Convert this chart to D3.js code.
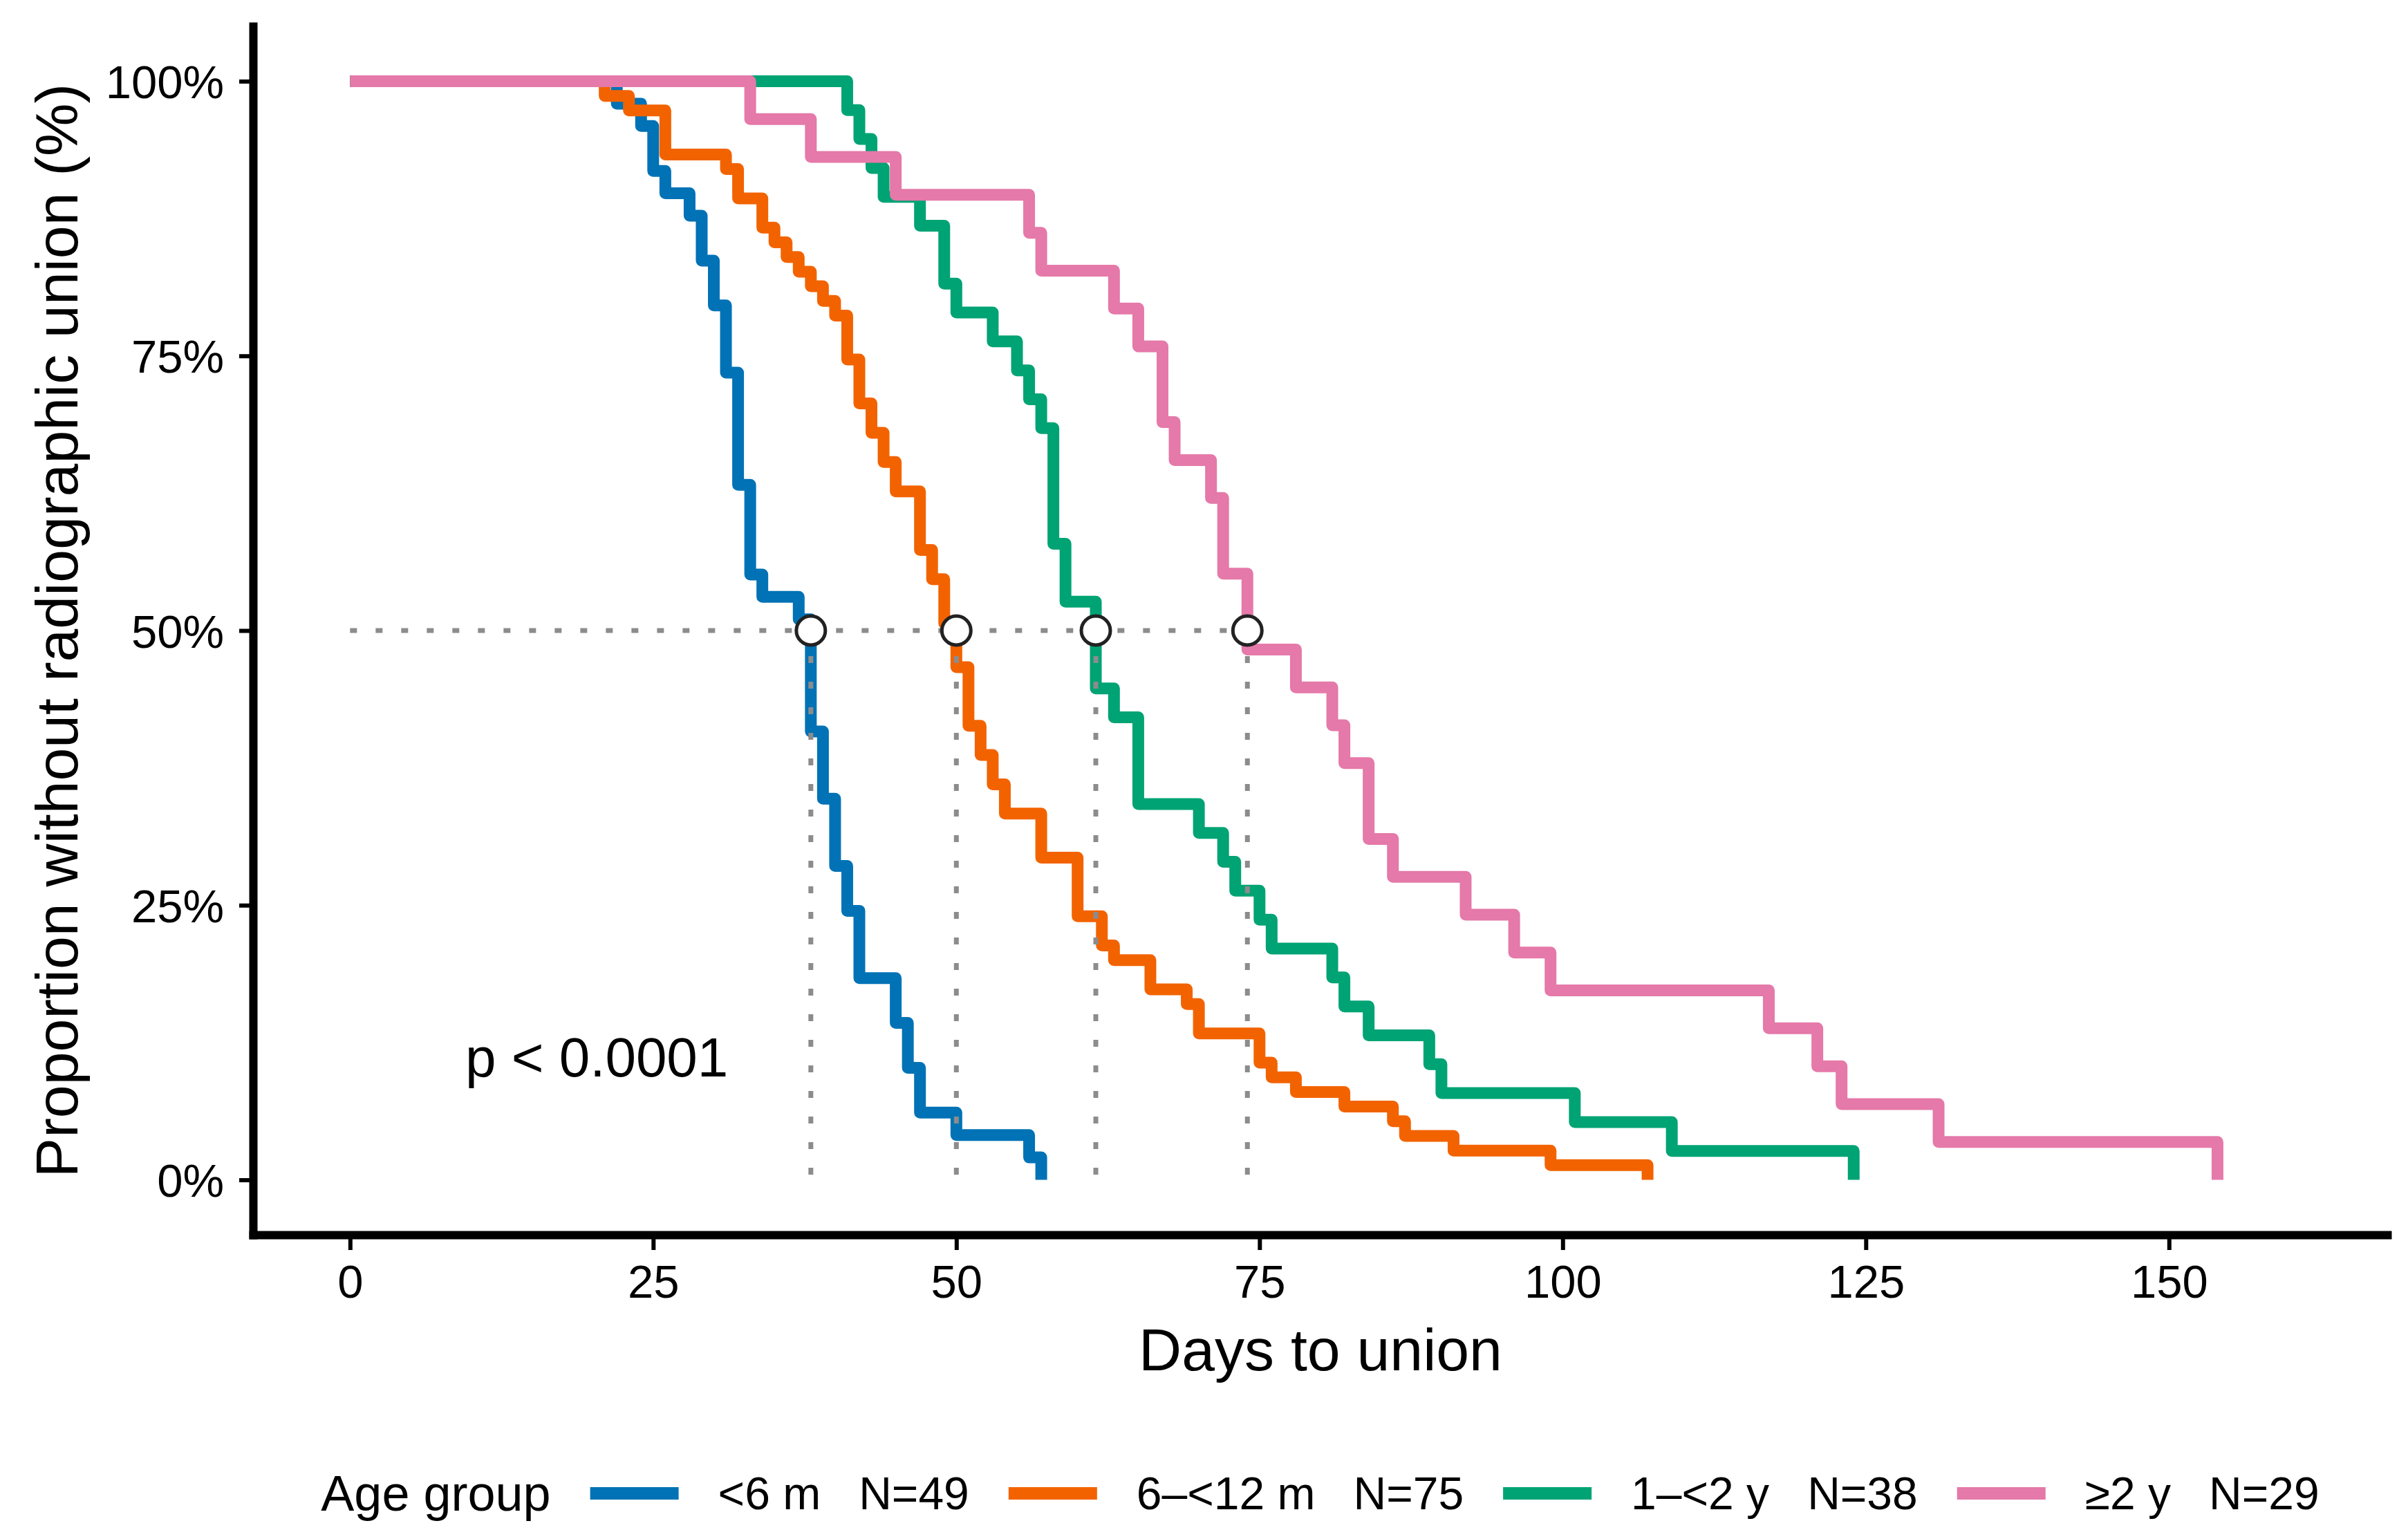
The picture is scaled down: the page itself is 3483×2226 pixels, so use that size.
<!DOCTYPE html>
<html>
<head>
<meta charset="utf-8">
<script src="https://cdn.jsdelivr.net/npm/d3@7"></script>
<style>
  body { margin: 0; background: #fff; }
  text { font-family: "Liberation Sans", Arial, sans-serif; fill: #000; }
</style>
</head>
<body>
<div id="container"></div>
<script>
const width = 3483;
const height = 2226;

// groups
const groups = ["<6 m", "6\u2013<12 m", "1\u2013<2 y", "\u22652 y"];
const groupN = [49, 75, 38, 29];
const colors = ["#0072B5", "#F26300", "#00A374", "#E579A9"];

// event days and number still without union after each day
const blueDays = [0, 22, 24, 25, 26, 28, 29, 30, 31, 32, 33, 34, 37, 38, 39, 40, 41, 42, 45, 46, 47, 50, 56, 57];
const blueLeft = [49, 48, 47, 45, 44, 43, 41, 39, 36, 31, 27, 26, 25, 20, 17, 14, 12, 9, 7, 5, 3, 2, 1, 0];

const orangeDays = [0, 21, 23, 26, 31, 32, 34, 35, 36, 37, 38, 39, 40, 41, 42, 43, 44, 45, 47, 48, 49, 50, 51, 52, 53, 54, 57, 60, 62, 63, 66, 69, 70, 75, 76, 78, 82, 86, 87, 91, 99, 107];
const orangeLeft = [75, 74, 73, 70, 69, 67, 65, 64, 63, 62, 61, 60, 59, 56, 53, 51, 49, 47, 43, 41, 38, 35, 31, 29, 27, 25, 22, 18, 16, 15, 13, 12, 10, 8, 7, 6, 5, 4, 3, 2, 1, 0];

const greenDays = [0, 41, 42, 43, 44, 47, 49, 50, 53, 55, 56, 57, 58, 59, 61.5, 63, 65, 70, 72, 73, 75, 76, 81, 82, 84, 89, 90, 101, 109, 124];
const greenLeft = [38, 37, 36, 35, 34, 33, 31, 30, 29, 28, 27, 26, 22, 20, 17, 16, 13, 12, 11, 10, 9, 8, 7, 6, 5, 4, 3, 2, 1, 0];

const pinkDays = [0, 33, 38, 45, 56, 57, 63, 65, 67, 68, 71, 72, 74, 78, 81, 82, 84, 86, 92, 96, 99, 117, 121, 123, 131, 154];
const pinkLeft = [29, 28, 27, 26, 25, 24, 23, 22, 20, 19, 18, 16, 14, 13, 12, 11, 9, 8, 7, 6, 5, 4, 3, 2, 1, 0];

// median days (survival crosses 50%)
const medians = [38, 50, 61.5, 74];

const xTicks = [0, 25, 50, 75, 100, 125, 150];
const yTicks = [0, 0.25, 0.5, 0.75, 1];
const pLabel = "p < 0.0001";

const curves = [
  { days: blueDays, left: blueLeft },
  { days: orangeDays, left: orangeLeft },
  { days: greenDays, left: greenLeft },
  { days: pinkDays, left: pinkLeft }
];

const xScale = d3.scaleLinear().domain([-8, 168]).range([366, 3453]);
const yScale = d3.scaleLinear().domain([-0.05, 1.05]).range([1786, 38]);

const svg = d3.select("#container")
  .append("svg")
  .attr("width", width)
  .attr("height", height)
  .style("background", "#fff");

// KM curves
const line = d3.line()
  .x(d => xScale(d[0]))
  .y(d => yScale(d[1]))
  .curve(d3.curveStepAfter);

curves.forEach((c, i) => {
  const pts = c.days.map((d, j) => [d, c.left[j] / groupN[i]]);
  svg.append("path")
    .attr("d", line(pts))
    .attr("fill", "none")
    .attr("stroke", colors[i])
    .attr("stroke-width", 17)
    .attr("stroke-linejoin", "round");
});

// median guide lines
const guides = svg.append("g")
  .attr("stroke", "#8c8c8c")
  .attr("stroke-width", 7)
  .attr("stroke-dasharray", "10,27")
  .attr("fill", "none");

guides.append("line")
  .attr("x1", xScale(0)).attr("x2", xScale(d3.max(medians)))
  .attr("y1", yScale(0.5)).attr("y2", yScale(0.5));

guides.selectAll(".vline")
  .data(medians)
  .join("line")
  .attr("class", "vline")
  .attr("x1", d => xScale(d)).attr("x2", d => xScale(d))
  .attr("y1", yScale(0.5)).attr("y2", yScale(0));

svg.selectAll(".median")
  .data(medians)
  .join("circle")
  .attr("class", "median")
  .attr("cx", d => xScale(d))
  .attr("cy", yScale(0.5))
  .attr("r", 21)
  .attr("fill", "#fff")
  .attr("stroke", "#222")
  .attr("stroke-width", 5);

// p value
svg.append("text")
  .attr("x", 673)
  .attr("y", 1557)
  .attr("font-size", 80)
  .text(pLabel);

// axes
const xAxis = svg.append("g")
  .attr("transform", `translate(0,${yScale.range()[0]})`)
  .call(d3.axisBottom(xScale).tickValues(xTicks).tickSize(22).tickSizeOuter(0).tickPadding(21));

const yAxis = svg.append("g")
  .attr("transform", `translate(${xScale.range()[0]},0)`)
  .call(d3.axisLeft(yScale).tickValues(yTicks).tickFormat(d3.format(".0%")).tickSize(20).tickSizeOuter(0).tickPadding(22));

[xAxis, yAxis].forEach(a => {
  a.select(".domain").attr("stroke", "#000").attr("stroke-width", 12).attr("stroke-linecap", "square");
  a.selectAll(".tick line").attr("stroke", "#000").attr("stroke-width", 6);
  a.selectAll(".tick text")
    .attr("font-size", 67)
    .attr("font-family", "Liberation Sans, Arial, sans-serif")
    .attr("fill", "#000");
});
yAxis.selectAll(".tick text").attr("dy", "0.36em");

// axis titles
svg.append("text")
  .attr("x", 1910)
  .attr("y", 1982)
  .attr("text-anchor", "middle")
  .attr("font-size", 86)
  .text("Days to union");

svg.append("text")
  .attr("transform", "translate(112,912) rotate(-90)")
  .attr("text-anchor", "middle")
  .attr("font-size", 86)
  .text("Proportion without radiographic union (%)");

// legend
const legend = svg.append("g");
const legY = 2160;
const gap = 57;
const keyW = 128;

const title = legend.append("text")
  .attr("y", legY)
  .attr("dy", "0.35em")
  .attr("font-size", 72)
  .text("Age group");

let cursor = title.node().getComputedTextLength() + gap;
groups.forEach((g, i) => {
  legend.append("line")
    .attr("x1", cursor).attr("x2", cursor + keyW)
    .attr("y1", legY).attr("y2", legY)
    .attr("stroke", colors[i])
    .attr("stroke-width", 18);
  cursor += keyW + gap;
  const t = legend.append("text")
    .attr("x", cursor)
    .attr("y", legY)
    .attr("dy", "0.35em")
    .attr("font-size", 66)
    .text(`${g}\u00a0\u00a0\u00a0N=${groupN[i]}`);
  cursor += t.node().getComputedTextLength() + gap;
});
cursor -= gap;
const panelMid = (xScale.range()[0] + xScale.range()[1]) / 2;
legend.attr("transform", `translate(${panelMid - cursor / 2},0)`);
</script>
</body>
</html>
